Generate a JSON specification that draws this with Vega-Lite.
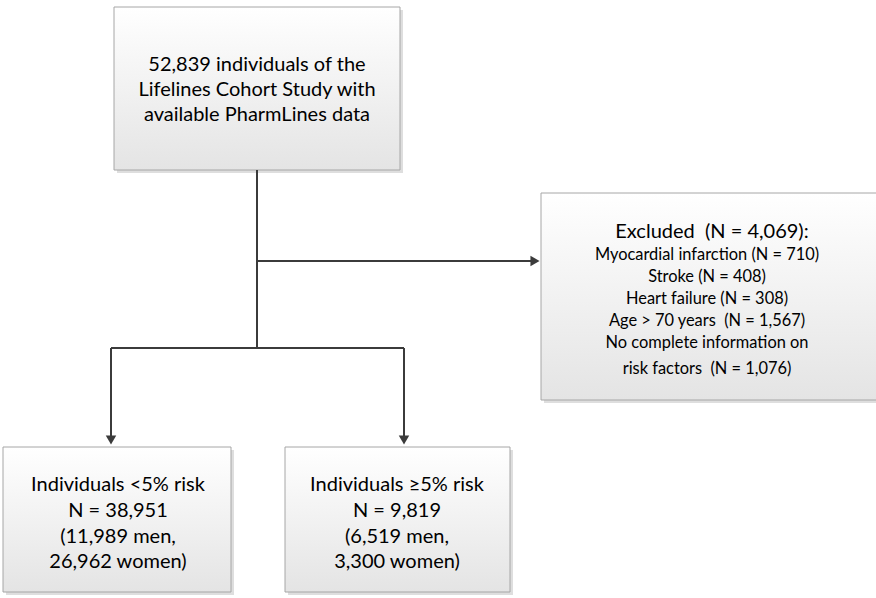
{
  "$schema": "https://vega.github.io/schema/vega-lite/v6.json",
  "width": 876,
  "height": 598,
  "padding": 0,
  "autosize": {"type": "none"},
  "background": "white",
  "config": {"view": {"stroke": null}},
  "datasets": {
    "boxes": [
      {"id": "top", "x": 114, "x2": 400, "y": 7, "y2": 170},
      {"id": "excl", "x": 541, "x2": 878, "y": 193, "y2": 400},
      {"id": "low", "x": 3, "x2": 231, "y": 447, "y2": 592},
      {"id": "high", "x": 285, "x2": 510, "y": 447, "y2": 592}
    ],
    "lines": [
      {"x": 257, "x2": 257, "y": 170, "y2": 348},
      {"x": 257, "x2": 533, "y": 261, "y2": 261},
      {"x": 111, "x2": 404, "y": 348, "y2": 348},
      {"x": 111, "x2": 111, "y": 348, "y2": 438},
      {"x": 404, "x2": 404, "y": 348, "y2": 438}
    ],
    "arrows": [
      {"x": 535, "y": 261, "dir": "right"},
      {"x": 111, "y": 440, "dir": "down"},
      {"x": 404, "y": 440, "dir": "down"}
    ],
    "texts": [
      {"x": 257, "y": 65, "role": "main", "text": "52,839 individuals of the"},
      {"x": 257, "y": 90, "role": "main", "text": "Lifelines Cohort Study with"},
      {"x": 257, "y": 115, "role": "main", "text": "available PharmLines data"},
      {"x": 712, "y": 232, "role": "main", "text": "Excluded \u00a0(N = 4,069):"},
      {"x": 707, "y": 255, "role": "small", "text": "Myocardial infarction (N = 710)"},
      {"x": 707, "y": 277, "role": "small", "text": "Stroke (N = 408)"},
      {"x": 707, "y": 299, "role": "small", "text": "Heart failure (N = 308)"},
      {"x": 707, "y": 321, "role": "small", "text": "Age > 70 years \u00a0(N = 1,567)"},
      {"x": 707, "y": 343, "role": "small", "text": "No complete information on"},
      {"x": 707, "y": 369, "role": "small", "text": "risk factors \u00a0(N = 1,076)"},
      {"x": 118, "y": 485, "role": "main", "text": "Individuals <5% risk"},
      {"x": 118, "y": 511, "role": "main", "text": "N = 38,951"},
      {"x": 118, "y": 537, "role": "main", "text": "(11,989 men,"},
      {"x": 118, "y": 562, "role": "main", "text": "26,962 women)"},
      {"x": 397, "y": 485, "role": "main", "text": "Individuals \u22655% risk"},
      {"x": 397, "y": 511, "role": "main", "text": "N = 9,819"},
      {"x": 397, "y": 537, "role": "main", "text": "(6,519 men,"},
      {"x": 397, "y": 562, "role": "main", "text": "3,300 women)"}
    ]
  },
  "layer": [
    {
      "data": {"name": "boxes"},
      "mark": {"type": "rect", "fill": "#bdbdbd", "opacity": 0.5, "xOffset": 3, "x2Offset": 3, "yOffset": 3, "y2Offset": 3},
      "encoding": {
        "x": {"field": "x", "type": "quantitative", "scale": {"domain": [0, 876], "nice": false, "zero": false}, "axis": null},
        "x2": {"field": "x2"},
        "y": {"field": "y", "type": "quantitative", "scale": {"domain": [598, 0], "nice": false, "zero": false}, "axis": null},
        "y2": {"field": "y2"}
      }
    },
    {
      "data": {"name": "boxes"},
      "mark": {
        "type": "rect",
        "stroke": "#a6a6a6",
        "strokeWidth": 1,
        "fill": {
          "gradient": "linear", "x1": 0, "y1": 0, "x2": 0, "y2": 1,
          "stops": [{"offset": 0, "color": "#ffffff"}, {"offset": 1, "color": "#e4e4e4"}]
        }
      },
      "encoding": {
        "x": {"field": "x", "type": "quantitative", "scale": {"domain": [0, 876], "nice": false, "zero": false}, "axis": null},
        "x2": {"field": "x2"},
        "y": {"field": "y", "type": "quantitative", "scale": {"domain": [598, 0], "nice": false, "zero": false}, "axis": null},
        "y2": {"field": "y2"}
      }
    },
    {
      "data": {"name": "lines"},
      "mark": {"type": "rule", "color": "#3b3b3b", "strokeWidth": 2},
      "encoding": {
        "x": {"field": "x", "type": "quantitative", "axis": null},
        "x2": {"field": "x2"},
        "y": {"field": "y", "type": "quantitative", "axis": null},
        "y2": {"field": "y2"}
      }
    },
    {
      "data": {"name": "arrows"},
      "mark": {"type": "point", "filled": true, "color": "#3b3b3b", "opacity": 1, "size": 110},
      "encoding": {
        "x": {"field": "x", "type": "quantitative", "axis": null},
        "y": {"field": "y", "type": "quantitative", "axis": null},
        "shape": {"field": "dir", "type": "nominal", "scale": {"domain": ["right", "down"], "range": ["triangle-right", "triangle-down"]}, "legend": null}
      }
    },
    {
      "data": {"name": "texts"},
      "mark": {"type": "text", "font": "Lato", "color": "#000000", "align": "center", "baseline": "middle"},
      "encoding": {
        "x": {"field": "x", "type": "quantitative", "axis": null},
        "y": {"field": "y", "type": "quantitative", "axis": null},
        "text": {"field": "text"},
        "size": {"field": "role", "type": "nominal", "scale": {"domain": ["main", "small"], "range": [20, 16.4]}, "legend": null}
      }
    }
  ]
}
